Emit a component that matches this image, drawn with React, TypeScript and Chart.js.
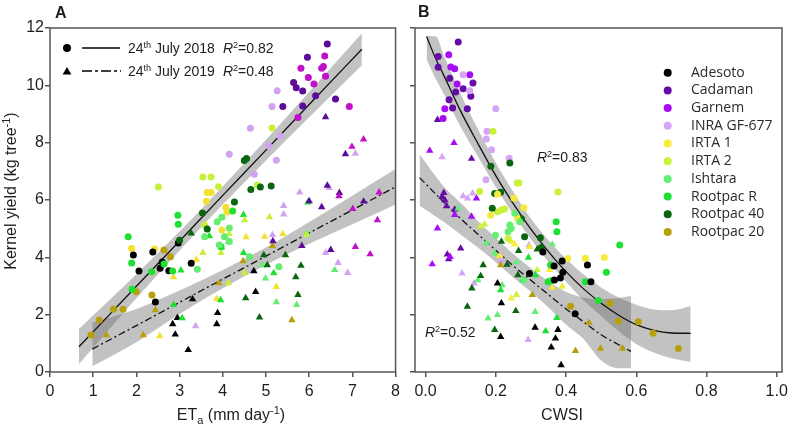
import React, { useEffect, useRef } from 'react';
import { Chart, registerables } from 'chart.js';

Chart.register(...registerables);

type Row = [number, number, number]; // x, kernel yield, cultivar index

const cultivarNames = ['Adesoto', 'Cadaman', 'Garnem', 'INRA GF-677', 'IRTA 1', 'IRTA 2', 'Ishtara', 'Rootpac R', 'Rootpac 40', 'Rootpac 20'];
const cultivarColoursA = ['#000000', '#5c0a99', '#c010c8', '#d2a2f2', '#f4e030', '#c6f03a', '#66ec70', '#1ee030', '#08660e', '#b8a00c'];
const cultivarColoursB = ['#000000', '#660aa8', '#a80cf6', '#d6a6f4', '#f6ea3c', '#c8f23c', '#66ee74', '#1ee034', '#08660e', '#b8a00c'];

const yieldTicks = [0, 2, 4, 6, 8, 10, 12];
const etaTicks = [0, 1, 2, 3, 4, 5, 6, 7, 8];
const cwsiTicks = [0, 0.2, 0.4, 0.6, 0.8, 1.0];

// Panel A — ETa vs yield, 24th July 2018 (circles)
const etaYield2018: Row[] = [
  [0.95, 1.29, 9], [1.14, 1.81, 9], [1.47, 2.19, 9], [1.69, 2.19, 9], [2.0, 2.8, 9], [2.36, 2.69, 9], [2.64, 4.26, 9], [2.79, 4.02, 9],
  [1.89, 4.31, 4], [2.42, 4.29, 4], [3.64, 6.26, 4], [3.73, 6.26, 4], [3.62, 5.96, 4], [3.98, 4.95, 4], [4.07, 5.75, 4], [4.1, 5.58, 4],
  [1.93, 4.08, 0], [2.06, 3.52, 0], [2.38, 4.19, 0], [2.44, 2.44, 0], [2.55, 3.62, 0], [2.6, 3.84, 0], [2.75, 3.53, 0], [2.97, 4.5, 0], [3.27, 3.79, 0],
  [1.81, 4.72, 7], [1.89, 3.8, 7], [1.9, 2.89, 7], [2.35, 3.5, 7], [2.64, 3.77, 7], [2.84, 3.52, 7], [2.96, 5.47, 7], [2.97, 5.15, 7], [3.96, 4.37, 7], [4.23, 5.62, 7],
  [3.41, 3.58, 6], [3.58, 4.72, 6], [3.87, 5.24, 6], [3.98, 5.4, 6], [3.92, 4.43, 6], [4.04, 4.72, 6], [4.15, 5.02, 6], [4.15, 4.55, 6], [4.62, 4.02, 6], [5.3, 3.67, 6],
  [2.51, 6.45, 5], [3.54, 6.8, 5], [3.73, 6.8, 5], [3.9, 6.46, 5], [3.58, 5.13, 5], [5.14, 8.51, 5], [4.8, 6.52, 5],
  [3.0, 4.6, 8], [3.53, 5.55, 8], [3.64, 4.99, 8], [4.27, 5.93, 8], [4.5, 7.38, 8], [4.55, 7.45, 8], [4.65, 6.37, 8], [4.87, 6.45, 8], [5.12, 6.49, 8],
  [4.15, 7.6, 3], [4.64, 8.5, 3], [4.73, 6.9, 3], [5.24, 7.39, 3], [5.06, 7.89, 3], [5.33, 8.23, 3], [5.26, 9.81, 3], [5.14, 9.26, 3],
  [5.39, 9.26, 1], [5.64, 10.1, 1], [5.7, 9.92, 1], [5.85, 9.8, 1], [5.85, 9.28, 1], [5.96, 10.98, 1], [6.15, 9.64, 1], [6.42, 11.44, 1], [6.61, 9.52, 1],
  [5.74, 8.88, 2], [5.81, 10.6, 2], [5.98, 10.27, 2], [6.11, 10.05, 2], [6.29, 10.6, 2], [6.33, 10.66, 2], [6.36, 11.02, 2], [6.38, 10.32, 2], [6.93, 9.26, 2],
];

// Panel A — ETa vs yield, 24th July 2019 (triangles)
const etaYield2019: Row[] = [
  [1.31, 1.29, 9], [2.16, 1.29, 9], [2.44, 2.16, 9], [3.91, 3.1, 9], [4.47, 3.87, 9], [5.15, 4.4, 9], [5.6, 1.81, 9],
  [2.54, 1.25, 4], [2.86, 3.31, 4], [3.39, 3.92, 4], [3.86, 2.55, 4], [4.54, 4.71, 4], [4.97, 4.72, 4], [5.24, 2.97, 4], [5.39, 4.82, 4],
  [2.84, 1.67, 0], [2.9, 1.31, 0], [2.95, 1.89, 0], [3.2, 0.77, 0], [3.3, 2.54, 0], [3.88, 2.06, 0], [3.86, 1.67, 0], [4.72, 3.52, 0], [4.76, 2.8, 0],
  [2.86, 2.34, 7], [3.06, 1.88, 7], [3.03, 3.55, 7], [3.69, 4.74, 7], [3.95, 2.51, 7], [3.97, 4.35, 7], [4.14, 4.55, 7], [4.48, 5.48, 7], [4.48, 4.16, 7], [5.18, 3.45, 7], [5.97, 5.92, 7],
  [4.91, 3.73, 6], [4.99, 3.27, 6], [5.24, 2.44, 6], [5.71, 2.34, 6], [5.94, 4.84, 6], [6.59, 3.56, 6],
  [3.54, 4.16, 5], [3.96, 4.16, 5], [4.15, 4.82, 5], [4.13, 3.1, 5], [4.51, 5.3, 5], [4.5, 3.45, 5], [5.08, 5.4, 5], [5.94, 4.78, 5],
  [3.27, 4.84, 8], [4.53, 2.58, 8], [4.85, 1.91, 8], [4.95, 4.08, 8], [5.03, 3.73, 8], [5.45, 4.08, 8], [5.69, 3.31, 8], [5.74, 2.69, 8], [5.81, 3.71, 8],
  [3.37, 1.6, 3], [5.15, 4.78, 3], [5.41, 5.5, 3], [5.41, 5.8, 3], [5.78, 6.27, 3], [6.38, 4.16, 3], [6.46, 6.42, 3], [6.67, 3.81, 3], [6.89, 3.46, 3], [7.07, 7.62, 3],
  [5.16, 4.57, 1], [5.83, 4.4, 1], [6.0, 5.96, 1], [6.29, 5.75, 1], [6.42, 6.5, 1], [6.5, 4.26, 1], [6.7, 6.25, 1], [7.26, 5.95, 1], [6.38, 8.89, 1], [6.84, 7.6, 1],
  [6.69, 6.14, 2], [7.01, 5.69, 2], [7.62, 6.27, 2], [7.58, 5.3, 2], [7.07, 4.37, 2], [7.41, 4.11, 2], [6.99, 7.86, 2], [7.26, 8.12, 2],
];

// Panel B — CWSI vs yield, 2018 (circles)
const cwsiYield2018: Row[] = [
  [0.093, 11.51, 1], [0.036, 11.01, 1], [0.036, 10.63, 1], [0.069, 10.25, 1], [0.135, 10.08, 1], [0.107, 9.88, 1], [0.086, 9.77, 1], [0.129, 9.62, 1], [0.067, 9.5, 1], [0.077, 9.21, 1], [0.119, 9.18, 1],
  [0.066, 11.07, 2], [0.072, 10.64, 2], [0.083, 10.58, 2], [0.126, 10.37, 2], [0.09, 10.05, 2], [0.055, 9.18, 2], [0.05, 8.84, 2],
  [0.107, 10.37, 3], [0.126, 9.81, 3], [0.2, 9.18, 3], [0.175, 8.4, 3], [0.173, 8.13, 3], [0.188, 7.75, 3], [0.238, 7.46, 3], [0.172, 6.71, 3],
  [0.192, 8.4, 5], [0.261, 6.59, 5], [0.266, 6.59, 5], [0.377, 6.28, 5], [0.154, 6.3, 5], [0.205, 5.59, 5], [0.216, 5.65, 5], [0.225, 5.69, 5], [0.235, 4.66, 5],
  [0.186, 7.18, 8], [0.24, 7.29, 8], [0.197, 6.23, 8], [0.214, 6.27, 8], [0.19, 5.71, 8], [0.273, 5.35, 8], [0.282, 4.72, 8], [0.327, 4.68, 8], [0.33, 4.34, 8],
  [0.185, 5.47, 4], [0.252, 6.06, 4], [0.28, 5.73, 4], [0.261, 5.36, 4], [0.405, 3.96, 4], [0.455, 3.97, 4], [0.509, 3.99, 4], [0.205, 6.2, 4],
  [0.199, 4.77, 6], [0.24, 5.13, 6], [0.244, 5.01, 6], [0.235, 4.89, 6], [0.254, 5.54, 6], [0.268, 5.24, 6], [0.28, 3.21, 6],
  [0.372, 5.24, 7], [0.374, 4.89, 7], [0.356, 3.73, 7], [0.349, 3.15, 7], [0.358, 3.18, 7], [0.553, 4.43, 7], [0.515, 3.48, 7], [0.455, 3.15, 7], [0.492, 2.49, 7],
  [0.334, 4.19, 0], [0.366, 3.7, 0], [0.389, 3.87, 0], [0.391, 3.48, 0], [0.296, 3.44, 0], [0.384, 3.28, 0], [0.367, 3.21, 0], [0.426, 2.03, 0], [0.461, 3.73, 0], [0.471, 3.15, 0],
  [0.413, 2.29, 9], [0.525, 2.4, 9], [0.549, 1.77, 9], [0.606, 1.75, 9], [0.648, 1.35, 9], [0.72, 0.82, 9],
];

// Panel B — CWSI vs yield, 2019 (triangles)
const cwsiYield2019: Row[] = [
  [0.034, 8.8, 1], [0.131, 7.44, 1], [0.052, 6.25, 1], [0.047, 6.11, 1], [0.055, 6.0, 1], [0.06, 5.79, 1], [0.083, 5.67, 1], [0.1, 4.31, 1], [0.062, 4.1, 1], [0.066, 3.94, 1],
  [0.012, 7.72, 2], [0.081, 7.99, 2], [0.145, 6.06, 2], [0.083, 5.48, 2], [0.131, 5.42, 2], [0.034, 5.01, 2], [0.019, 3.76, 2], [0.07, 4.02, 2],
  [0.047, 7.5, 3], [0.134, 6.23, 3], [0.107, 6.14, 3], [0.104, 3.44, 3], [0.138, 3.09, 3], [0.216, 3.88, 3], [0.295, 4.43, 3], [0.292, 1.12, 3], [0.12, 6.06, 3],
  [0.093, 5.71, 6], [0.149, 3.21, 6], [0.173, 4.5, 6], [0.218, 3.03, 6], [0.205, 1.99, 6], [0.178, 1.87, 6], [0.259, 3.83, 6], [0.197, 4.14, 6], [0.312, 2.1, 6], [0.361, 4.45, 6],
  [0.164, 3.73, 8], [0.157, 3.35, 8], [0.132, 2.92, 8], [0.119, 2.28, 8], [0.216, 4.55, 8], [0.232, 3.75, 8], [0.257, 2.13, 8], [0.263, 3.38, 8], [0.265, 4.23, 8], [0.318, 4.28, 8], [0.197, 1.47, 8],
  [0.156, 5.07, 5], [0.168, 5.15, 5], [0.259, 2.69, 5], [0.318, 3.56, 5],
  [0.211, 4.05, 4], [0.244, 2.57, 4], [0.244, 4.55, 4], [0.254, 4.45, 4], [0.297, 4.37, 4], [0.353, 3.56, 4], [0.361, 2.94, 4], [0.389, 2.98, 4],
  [0.214, 3.73, 9], [0.304, 2.69, 9], [0.427, 0.74, 9], [0.465, 1.72, 9], [0.498, 0.82, 9], [0.56, 0.82, 9],
  [0.205, 3.09, 0], [0.214, 1.23, 0], [0.216, 2.4, 0], [0.312, 1.55, 0], [0.377, 1.47, 0], [0.37, 1.17, 0], [0.358, 0.86, 0], [0.386, 0.24, 0],
  [0.214, 2.86, 7], [0.293, 3.99, 7], [0.313, 3.38, 7], [0.277, 3.21, 7], [0.342, 1.43, 7], [0.374, 1.89, 7],
];

// Fitted lines and confidence bands
const fitA2018X = [0.67, 2, 3, 4, 5, 6, 7.22];
const fitA2018Y = [0.88, 2.99, 4.57, 6.16, 7.74, 9.33, 11.26];
const bandA2018Upper = [1.5, 3.41, 4.9, 6.48, 8.1, 9.77, 11.82];
const bandA2018Lower = [0.28, 2.57, 4.24, 5.84, 7.38, 8.89, 10.7];

const fitA2019X = [0.98, 2, 3, 4, 5, 6, 7, 8];
const fitA2019Y = [0.8, 1.62, 2.43, 3.24, 4.04, 4.85, 5.65, 6.46];
const bandA2019Upper = [1.72, 2.2, 2.84, 3.56, 4.34, 5.23, 6.15, 7.08];
const bandA2019Lower = [0.2, 1.04, 2.02, 2.92, 3.74, 4.47, 5.15, 5.84];

const fitB2018X = [0.003, 0.03, 0.05, 0.1, 0.15, 0.2, 0.25, 0.3, 0.35, 0.4, 0.45, 0.5, 0.55, 0.6, 0.65, 0.7, 0.755];
const fitB2018Y = [11.7, 10.9, 10.4, 9.1, 7.95, 6.85, 5.87, 4.98, 4.2, 3.5, 2.9, 2.4, 1.98, 1.65, 1.45, 1.36, 1.35];
const bandB2018Upper = [11.72, 11.7, 11.1, 9.7, 8.45, 7.3, 6.28, 5.35, 4.6, 3.95, 3.4, 2.95, 2.6, 2.35, 2.18, 2.15, 2.3];
const bandB2018Lower = [10.9, 10.2, 9.75, 8.55, 7.5, 6.45, 5.5, 4.63, 3.85, 3.15, 2.5, 1.95, 1.42, 0.98, 0.68, 0.48, 0.36];

const fitB2019X = [-0.017, 0.05, 0.1, 0.15, 0.2, 0.25, 0.3, 0.35, 0.4, 0.45, 0.5, 0.55, 0.585];
const fitB2019Y = [6.78, 5.95, 5.35, 4.8, 4.25, 3.7, 3.2, 2.7, 2.2, 1.75, 1.3, 0.95, 0.72];
const bandB2019Upper = [7.6, 6.5, 5.9, 5.25, 4.68, 4.12, 3.62, 3.17, 2.8, 2.6, 2.55, 2.58, 2.65];
const bandB2019Lower = [5.8, 5.25, 4.8, 4.33, 3.83, 3.3, 2.8, 2.25, 1.65, 1.15, 0.4, 0.13, 0.13];

const AX_FONT = '"Liberation Sans", Arial, sans-serif';
const LEG_FONT = '"Open Sans", "Noto Sans", sans-serif';
const AXIS_COLOUR = '#555555';
const TEXT_COLOUR = '#1e1e1e';
const BAND_COLOUR = 'rgba(110,110,110,0.42)';

type Part = { t: string; size: number; style?: string; dy?: number; family?: string };

function richText(ctx: CanvasRenderingContext2D, parts: Part[], x: number, y: number, align: 'left' | 'center') {
  const fontOf = (p: Part) => `${p.style || 'normal'} ${p.size}px ${p.family || AX_FONT}`;
  let total = 0;
  for (const p of parts) {
    ctx.font = fontOf(p);
    total += ctx.measureText(p.t).width;
  }
  let cx = align === 'center' ? x - total / 2 : x;
  ctx.textAlign = 'left';
  for (const p of parts) {
    ctx.font = fontOf(p);
    ctx.fillText(p.t, cx, y + (p.dy || 0));
    cx += ctx.measureText(p.t).width;
  }
}

function pointsDataset(rows: Row[], colours: string[], style: string, radius: number) {
  const c = rows.map((r) => colours[r[2]]);
  return {
    data: rows.map((r) => ({ x: r[0], y: r[1] })),
    showLine: false,
    pointStyle: style,
    pointRadius: radius,
    pointBackgroundColor: c,
    pointBorderColor: c,
    pointBorderWidth: 0,
    order: 0,
  };
}

function fitDataset(xs: number[], ys: number[], dash: number[]) {
  return {
    data: xs.map((x, i) => ({ x, y: ys[i] })),
    borderColor: '#111111',
    borderWidth: 1.3,
    borderDash: dash,
    pointRadius: 0,
    fill: false,
    cubicInterpolationMode: 'monotone',
    order: 1,
  };
}

function bandDatasets(xs: number[], up: number[], lo: number[]) {
  return [
    {
      data: xs.map((x, i) => ({ x, y: up[i] })),
      borderColor: 'rgba(0,0,0,0)',
      borderWidth: 0,
      pointRadius: 0,
      fill: '+1',
      backgroundColor: BAND_COLOUR,
      cubicInterpolationMode: 'monotone',
      order: 2,
    },
    {
      data: xs.map((x, i) => ({ x, y: lo[i] })),
      borderColor: 'rgba(0,0,0,0)',
      borderWidth: 0,
      pointRadius: 0,
      fill: false,
      cubicInterpolationMode: 'monotone',
      order: 2,
    },
  ];
}

function xScale(min: number, max: number, ticks: number[], fmt: (v: number) => string) {
  return {
    type: 'linear',
    min,
    max,
    afterBuildTicks: (s: any) => {
      s.ticks = ticks.map((v) => ({ value: v }));
    },
    afterFit: (s: any) => {
      s.height = 55;
    },
    ticks: {
      font: { family: AX_FONT, size: 16 },
      color: TEXT_COLOUR,
      padding: 5,
      maxRotation: 0,
      autoSkip: false,
      callback: (v: any) => fmt(Number(v)),
    },
    grid: { drawOnChartArea: false, drawTicks: true, tickLength: 5, color: AXIS_COLOUR, lineWidth: 1.5 },
    border: { display: false },
  };
}

function yScale(width: number, showLabels: boolean) {
  return {
    type: 'linear',
    min: 0,
    max: 12,
    afterBuildTicks: (s: any) => {
      s.ticks = yieldTicks.map((v) => ({ value: v }));
    },
    afterFit: (s: any) => {
      s.width = width;
    },
    ticks: {
      font: { family: AX_FONT, size: 16 },
      color: TEXT_COLOUR,
      padding: 1,
      autoSkip: false,
      callback: (v: any) => (showLabels ? String(v) : ''),
    },
    grid: { drawOnChartArea: false, drawTicks: true, tickLength: 5, color: AXIS_COLOUR, lineWidth: 1.5 },
    border: { display: false },
  };
}

function drawBox(chart: any) {
  const { ctx, chartArea: ca } = chart;
  ctx.save();
  ctx.strokeStyle = AXIS_COLOUR;
  ctx.lineWidth = 1.5;
  ctx.strokeRect(ca.left, ca.top, ca.right - ca.left, ca.bottom - ca.top);
  ctx.restore();
}

function triangle(ctx: CanvasRenderingContext2D, x: number, y: number, r: number) {
  ctx.beginPath();
  ctx.moveTo(x, y - r);
  ctx.lineTo(x + r * 0.87, y + r * 0.5);
  ctx.lineTo(x - r * 0.87, y + r * 0.5);
  ctx.closePath();
  ctx.fill();
}

const panelAPlugin = {
  id: 'panelA',
  afterDraw(chart: any) {
    drawBox(chart);
    const ctx: CanvasRenderingContext2D = chart.ctx;
    ctx.save();
    ctx.fillStyle = TEXT_COLOUR;
    ctx.textBaseline = 'alphabetic';
    richText(ctx, [{ t: 'A', size: 16, style: 'bold' }], 55, 18, 'left');
    // x title
    richText(ctx, [
      { t: 'ET', size: 16 },
      { t: 'a', size: 11, dy: 4 },
      { t: ' (mm day', size: 16 },
      { t: '-1', size: 11, dy: -6 },
      { t: ')', size: 16 },
    ], 231, 420, 'center');
    // y title
    ctx.save();
    ctx.translate(16, 191);
    ctx.rotate(-Math.PI / 2);
    richText(ctx, [
      { t: 'Kernel yield (kg tree', size: 16 },
      { t: '-1', size: 11, dy: -6 },
      { t: ')', size: 16 },
    ], 0, 0, 'center');
    ctx.restore();
    // legend
    ctx.fillStyle = '#000';
    ctx.beginPath();
    ctx.arc(67, 48, 4, 0, Math.PI * 2);
    ctx.fill();
    triangle(ctx, 67, 72, 5);
    ctx.strokeStyle = '#000';
    ctx.lineWidth = 1.6;
    ctx.beginPath();
    ctx.moveTo(82, 48);
    ctx.lineTo(120, 48);
    ctx.stroke();
    ctx.setLineDash([10, 3, 3, 3]);
    ctx.beginPath();
    ctx.moveTo(82, 71);
    ctx.lineTo(121, 71);
    ctx.stroke();
    ctx.setLineDash([]);
    ctx.fillStyle = TEXT_COLOUR;
    richText(ctx, [{ t: '24', size: 14 }, { t: 'th', size: 9, dy: -5 }, { t: ' July 2018', size: 14 }], 128, 53, 'left');
    richText(ctx, [{ t: 'R', size: 14, style: 'italic' }, { t: '2', size: 9, dy: -5 }, { t: '=0.82', size: 14 }], 223, 53, 'left');
    richText(ctx, [{ t: '24', size: 14 }, { t: 'th', size: 9, dy: -5 }, { t: ' July 2019', size: 14 }], 128, 76, 'left');
    richText(ctx, [{ t: 'R', size: 14, style: 'italic' }, { t: '2', size: 9, dy: -5 }, { t: '=0.48', size: 14 }], 223, 76, 'left');
    ctx.restore();
  },
};

const panelBPlugin = {
  id: 'panelB',
  afterDraw(chart: any) {
    drawBox(chart);
    const ctx: CanvasRenderingContext2D = chart.ctx;
    const off = 405;
    ctx.save();
    ctx.fillStyle = TEXT_COLOUR;
    ctx.textBaseline = 'alphabetic';
    richText(ctx, [{ t: 'B', size: 16, style: 'bold' }], 418 - off, 17, 'left');
    richText(ctx, [{ t: 'CWSI', size: 16 }], 562 - off, 420, 'center');
    richText(ctx, [{ t: 'R', size: 14, style: 'italic' }, { t: '2', size: 9, dy: -5 }, { t: '=0.83', size: 14 }], 537 - off, 162, 'left');
    richText(ctx, [{ t: 'R', size: 14, style: 'italic' }, { t: '2', size: 9, dy: -5 }, { t: '=0.52', size: 14 }], 425 - off, 337, 'left');
    // cultivar legend
    cultivarNames.forEach((name, i) => {
      const y = 72.7 + i * 17.7;
      ctx.fillStyle = cultivarColoursB[i];
      ctx.beginPath();
      ctx.arc(667.7 - off, y, 4, 0, Math.PI * 2);
      ctx.fill();
      ctx.fillStyle = '#2a2a2a';
      ctx.textBaseline = 'middle';
      richText(ctx, [{ t: name, size: 14, family: LEG_FONT }], 691 - off, y, 'left');
    });
    ctx.restore();
  },
};

function baseOptions(xs: any, ys: any, padRight: number) {
  return {
    responsive: false,
    animation: false,
    devicePixelRatio: 1,
    events: [],
    layout: { padding: { top: 28, right: padRight, bottom: 0, left: 0 } },
    plugins: { legend: { display: false }, tooltip: { enabled: false }, title: { display: false } },
    scales: { x: xs, y: ys },
  };
}

export default function App() {
  const refA = useRef<HTMLCanvasElement>(null);
  const refB = useRef<HTMLCanvasElement>(null);

  useEffect(() => {
    const chartA = new Chart(refA.current as HTMLCanvasElement, {
      type: 'line',
      data: {
        datasets: [
          ...bandDatasets(fitA2018X, bandA2018Upper, bandA2018Lower),
          ...bandDatasets(fitA2019X, bandA2019Upper, bandA2019Lower),
          fitDataset(fitA2018X, fitA2018Y, []),
          fitDataset(fitA2019X, fitA2019Y, [7, 3, 2, 3]),
          pointsDataset(etaYield2018, cultivarColoursA, 'circle', 3.5),
          pointsDataset(etaYield2019, cultivarColoursA, 'triangle', 4.3),
        ] as any,
      },
      options: baseOptions(xScale(0, 8, etaTicks, (v) => String(v)), yScale(50, true), 6) as any,
      plugins: [panelAPlugin],
    });
    const chartB = new Chart(refB.current as HTMLCanvasElement, {
      type: 'line',
      data: {
        datasets: [
          ...bandDatasets(fitB2018X, bandB2018Upper, bandB2018Lower),
          ...bandDatasets(fitB2019X, bandB2019Upper, bandB2019Lower),
          fitDataset(fitB2018X, fitB2018Y, []),
          fitDataset(fitB2019X, fitB2019Y, [7, 3, 2, 3]),
          pointsDataset(cwsiYield2018, cultivarColoursB, 'circle', 3.5),
          pointsDataset(cwsiYield2019, cultivarColoursB, 'triangle', 4.3),
        ] as any,
      },
      options: baseOptions(xScale(-0.03, 1.015, cwsiTicks, (v) => v.toFixed(1)), yScale(10, false), 10) as any,
      plugins: [panelBPlugin],
    });
    return () => {
      chartA.destroy();
      chartB.destroy();
    };
  }, []);

  return (
    <div style={{ position: 'fixed', left: 0, top: 0, width: 793, height: 427, background: '#ffffff' }}>
      <canvas ref={refA} width={405} height={427} style={{ position: 'absolute', left: 0, top: 0 }} />
      <canvas ref={refB} width={388} height={427} style={{ position: 'absolute', left: 405, top: 0 }} />
    </div>
  );
}
